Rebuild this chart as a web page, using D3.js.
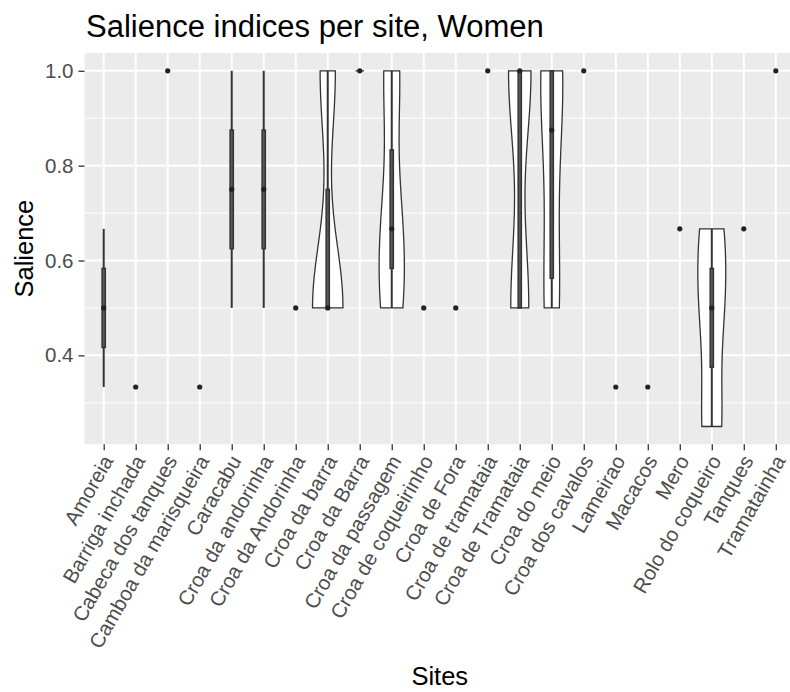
<!DOCTYPE html>
<html><head><meta charset="utf-8">
<script src="https://cdn.jsdelivr.net/npm/d3@7"></script>
<style>body{margin:0;background:#fff} svg{display:block;font-family:"Liberation Sans",Arial,Helvetica,sans-serif}</style>
</head><body>
<svg id="chart" width="790" height="692"></svg>
<script>
// ---- data ----
const sites = ["Amoreia","Barriga inchada","Cabeca dos tanques","Camboa da marisqueira","Caracabu",
  "Croa da andorinha","Croa da Andorinha","Croa da barra","Croa da Barra","Croa da passagem",
  "Croa de coqueirinho","Croa de Fora","Croa de tramataia","Croa de Tramataia","Croa do meio",
  "Croa dos cavalos","Lameirao","Macacos","Mero","Rolo do coqueiro","Tanques","Tramatainha"];
const salience = [
  [0.3333,0.6667],
  [0.3333],
  [1.0],
  [0.3333],
  [0.5,1.0],
  [0.5,1.0],
  [0.5],
  [0.5,0.5,1.0],
  [1.0,1.0,1.0],
  [0.5,0.6667,1.0],
  [0.5],
  [0.5],
  [1.0],
  [0.5,0.5,0.5,0.5,1.0,1.0,1.0,1.0,1.0],
  [0.5,0.5,0.75,1.0,1.0,1.0],
  [1.0],
  [0.3333],
  [0.3333],
  [0.6667],
  [0.25,0.5,0.6667],
  [0.6667],
  [1.0]
];
const yTicks = [0.4,0.6,0.8,1.0];
const yMinor = [0.3,0.5,0.7,0.9];
const title = "Salience indices per site, Women";
const xTitle = "Sites", yTitle = "Salience";

// ---- layout ----
const svg = d3.select("#chart");
const P = {left:84.5, right:795, top:53, bottom:444.3};
const allVals = salience.flat();
const ext = d3.extent(allVals), pad = (ext[1]-ext[0])*0.05;
const y = d3.scaleLinear().domain([ext[0]-pad, ext[1]+pad]).range([P.bottom, P.top]);
const x = d3.scalePoint().domain(sites).range([P.left, P.right]).padding(0.6);
const step = x.step();

// panel
svg.append("rect").attr("x",P.left).attr("y",P.top).attr("width",P.right-P.left).attr("height",P.bottom-P.top).attr("fill","#EBEBEB");
const grid = svg.append("g");
grid.selectAll(".ymin").data(yMinor).join("line").attr("x1",P.left).attr("x2",P.right)
  .attr("y1",d=>y(d)).attr("y2",d=>y(d)).attr("stroke","#fff").attr("stroke-width",1);
grid.selectAll(".ymaj").data(yTicks).join("line").attr("x1",P.left).attr("x2",P.right)
  .attr("y1",d=>y(d)).attr("y2",d=>y(d)).attr("stroke","#fff").attr("stroke-width",2);
grid.selectAll(".xmaj").data(sites).join("line").attr("y1",P.top).attr("y2",P.bottom)
  .attr("x1",d=>x(d)).attr("x2",d=>x(d)).attr("stroke","#fff").attr("stroke-width",2);

// ---- stats ----
function bwNrd0(v){
  const s=v.slice().sort(d3.ascending), n=s.length;
  const hi=d3.deviation(s)||0;
  const iqr=d3.quantileSorted(s,0.75)-d3.quantileSorted(s,0.25);
  let lo=Math.min(hi,iqr/1.34);
  if(!lo) lo = hi || Math.abs(s[0]) || 1;
  return 0.9*lo*Math.pow(n,-0.2);
}
function kde(v,bw,t){
  return d3.sum(v,a=>Math.exp(-0.5*((t-a)/bw)**2))/(v.length*bw*Math.sqrt(2*Math.PI));
}
const violins = [];
salience.forEach((v,i)=>{
  if(v.length<3) return;
  const bw=bwNrd0(v), [lo,hi]=d3.extent(v);
  const n=512;
  const pts=d3.range(n).map(k=>{const t=lo+(hi-lo)*k/(n-1); return {t, d:kde(v,bw,t)};});
  violins.push({site:sites[i], pts});
});
const maxD = d3.max(violins, vi=>d3.max(vi.pts,p=>p.d));
const vw = d3.scaleLinear().domain([0,maxD]).range([0, 0.95*step/2]);

const vg = svg.append("g");
violins.forEach(vi=>{
  const cx=x(vi.site);
  const area=d3.area().y(p=>y(p.t)).x0(p=>cx-vw(p.d)).x1(p=>cx+vw(p.d));
  vg.append("path").attr("d",area(vi.pts)+"Z").attr("fill","#fff").attr("stroke","#333").attr("stroke-width",1.3);
});

// boxplots
const boxW = step*0.1;
const bg = svg.append("g");
salience.forEach((v,i)=>{
  const s=v.slice().sort(d3.ascending), cx=x(sites[i]);
  const q1=d3.quantileSorted(s,0.25), med=d3.quantileSorted(s,0.5), q3=d3.quantileSorted(s,0.75);
  const iqr=q3-q1;
  const lo=d3.min(s.filter(a=>a>=q1-1.5*iqr)), hi=d3.max(s.filter(a=>a<=q3+1.5*iqr));
  bg.append("line").attr("x1",cx).attr("x2",cx).attr("y1",y(hi)).attr("y2",y(q3)).attr("stroke","#333").attr("stroke-width",2);
  bg.append("line").attr("x1",cx).attr("x2",cx).attr("y1",y(q1)).attr("y2",y(lo)).attr("stroke","#333").attr("stroke-width",2);
  bg.append("rect").attr("x",cx-boxW/2).attr("width",boxW).attr("y",y(q3)).attr("height",y(q1)-y(q3))
    .attr("fill","#5a5a5a").attr("stroke","#333").attr("stroke-width",1.5);
  bg.append("circle").attr("cx",cx).attr("cy",y(med)).attr("r",2.6).attr("fill","#222");
});

// axes
const yAxis = svg.append("g").attr("transform",`translate(${P.left},0)`)
  .call(d3.axisLeft(y).tickValues(yTicks).tickFormat(d3.format(".1f")).tickSize(6).tickPadding(5));
const xAxis = svg.append("g").attr("transform",`translate(0,${P.bottom})`)
  .call(d3.axisBottom(x).tickSize(6).tickPadding(3));
[yAxis,xAxis].forEach(a=>{
  a.select(".domain").remove();
  a.selectAll(".tick line").attr("stroke","#333").attr("stroke-width",1.3);
  a.selectAll(".tick text").attr("fill","#4D4D4D").style("font-size","20.5px");
});
xAxis.selectAll(".tick text").attr("text-anchor","end").attr("y",0).attr("dy","0.72em")
  .attr("transform","translate(-3,9) rotate(-60)");

// titles
svg.append("text").attr("x",86).attr("y",37).style("font-size","31px").attr("fill","#000").text(title);
svg.append("text").attr("transform",`translate(33,${(P.top+P.bottom)/2}) rotate(-90)`).attr("text-anchor","middle")
  .style("font-size","25.5px").attr("fill","#000").text(yTitle);
svg.append("text").attr("x",(P.left+P.right)/2).attr("y",685).attr("text-anchor","middle")
  .style("font-size","25.5px").attr("fill","#000").text(xTitle);
</script>
</body></html>
